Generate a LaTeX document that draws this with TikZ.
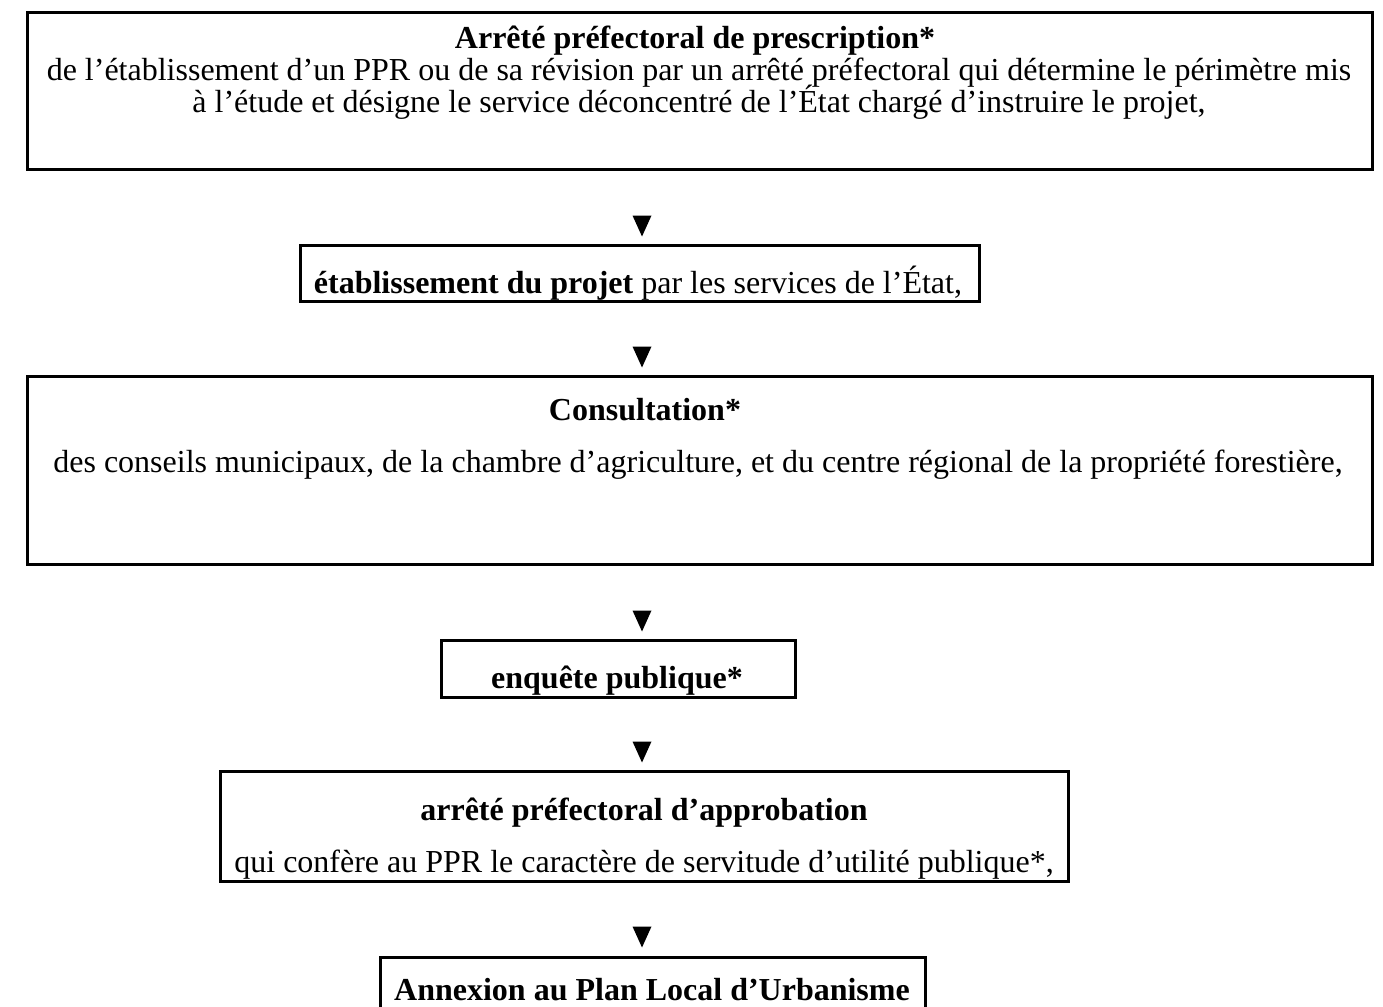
\documentclass[tikz,border=0pt]{standalone}
\usepackage{fontspec}
\setmainfont{Liberation Serif}
\begin{document}
\begin{tikzpicture}[x=0.5pt,y=-0.5pt,
  box/.style={draw=black,line width=1.5pt},
  txt/.style={anchor=base,inner sep=0pt,font=\fontsize{16}{19}\selectfont},
  tri/.style={fill=black}]
\useasboundingbox (0,0) rectangle (1383,1007);
% boxes
\draw[box] (27,12) rectangle (1372,169);
\draw[box] (300,245) rectangle (979,301);
\draw[box] (27,376) rectangle (1372,564);
\draw[box] (441,640) rectangle (795,697);
\draw[box] (220,771) rectangle (1068,881);
\draw[box] (380,957) rectangle (925,1040);
% texts
\node[txt] (t1a) at (695,48) {\textbf{Arrêté préfectoral de prescription*}};
\node[txt] (t1b) at (699,80) {de l’établissement d’un PPR ou de sa révision par un arrêté préfectoral qui détermine le périmètre mis};
\node[txt] (t1c) at (699,112) {à l’étude et désigne le service déconcentré de l’État chargé d’instruire le projet,};
\node[txt] (t2) at (638,293) {\textbf{établissement du projet} par les services de l’État,};
\node[txt] (t3a) at (645,420) {\textbf{Consultation*}};
\node[txt] (t3b) at (698,472) {des conseils municipaux, de la chambre d’agriculture, et du centre régional de la propriété forestière,};
\node[txt] (t4) at (617,688) {\textbf{enquête publique*}};
\node[txt] (t5a) at (644,820) {\textbf{arrêté préfectoral d’approbation}};
\node[txt] (t5b) at (644,872) {qui confère au PPR le caractère de servitude d’utilité publique*,};
\node[txt] (t6) at (652,1000) {\textbf{Annexion au Plan Local d’Urbanisme}};
% triangles
\foreach \y/\n in {226/a1,357/a2,621/a3,752/a4,937/a5}{
  \coordinate (\n) at (642,\y);
  \fill[tri] ([shift={(-9.5,-10.5)}]\n) -- ([shift={(9.5,-10.5)}]\n) -- ([shift={(0,10.5)}]\n) -- cycle;
}
\end{tikzpicture}
\end{document}
